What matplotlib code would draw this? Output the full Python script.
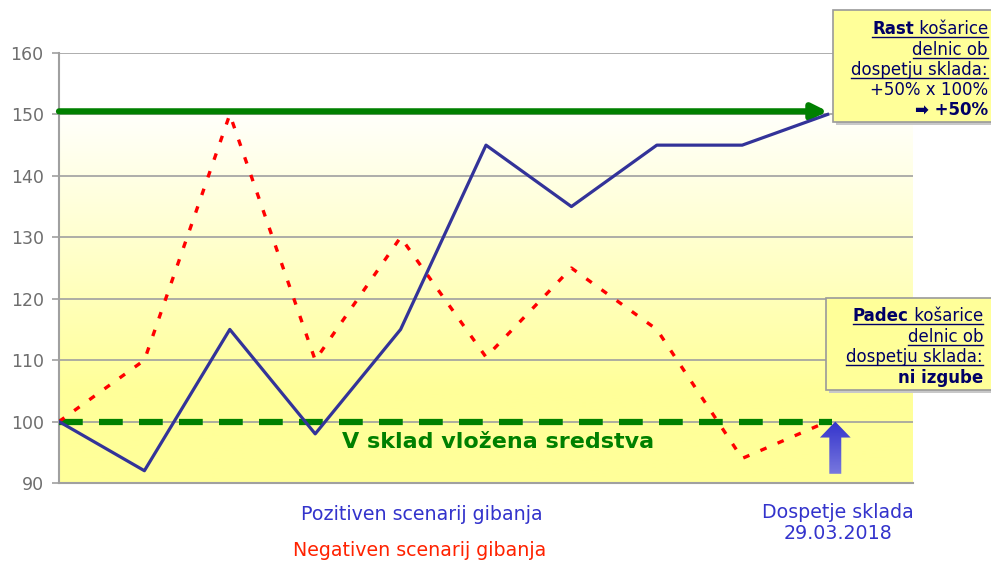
import numpy as np
import matplotlib.pyplot as plt
from matplotlib.patches import Rectangle, FancyArrow
from matplotlib.lines import Line2D

# data
periods = list(range(10))
positive = [100, 92, 115, 98, 115, 145, 135, 145, 145, 150]
negative = [100, 110, 150, 110, 130, 110.5, 125, 115, 94, 100]
y_ticks = [90, 100, 110, 120, 130, 140, 150, 160]
invested_level = 100
growth_level = 150.5

W, H = 991, 563
fig = plt.figure(figsize=(W / 100, H / 100), dpi=100)
fig.patch.set_facecolor('white')


def fx(px):
    return px / W


def fy(py):
    return 1 - py / H


ax = fig.add_axes([fx(59), fy(483), fx(913) - fx(59), fy(53) - fy(483)])
ax.set_xlim(0, 10)
ax.set_ylim(90, 160)

# background gradient: white near the top, yellow towards the bottom
yy = np.linspace(90, 160, 300)
t = np.clip((152 - yy) / (152 - 105), 0, 1)
white = np.array([1.0, 1.0, 1.0])
yellow = np.array([1.0, 1.0, 0.6])
grad = (white[None, :] * (1 - t[:, None]) + yellow[None, :] * t[:, None])
ax.imshow(grad[:, None, :], extent=[0, 10, 90, 160], origin='lower',
          aspect='auto', zorder=0)

for y in y_ticks[1:]:
    ax.axhline(y, color='#a0a0a0', lw=1.2, zorder=1)

ax.set_yticks(y_ticks)
ax.set_xticks([])
ax.tick_params(axis='y', colors='#a0a0a0', labelcolor='#6e6e6e',
               labelsize=12.5, length=5, width=1.2, pad=6)
for side in ['top', 'right']:
    ax.spines[side].set_visible(False)
for side in ['left', 'bottom']:
    ax.spines[side].set_color('#a0a0a0')
    ax.spines[side].set_linewidth(1.5)

# invested amount (dashed) and growth target (arrow)
ax.plot([0, 9.05], [invested_level, invested_level], color='#008000', lw=4.5,
        linestyle=(0, (3.8, 2.6)), solid_capstyle='butt',
        dash_capstyle='butt', zorder=3)
ax.annotate('', xy=(9.0, growth_level), xytext=(0, growth_level),
            arrowprops=dict(arrowstyle='-|>', lw=4.5, color='#008000',
                            mutation_scale=22, shrinkA=0, shrinkB=0),
            zorder=3)

ax.plot(periods, negative, color='#ff0000', lw=2.4,
        linestyle=(0, (2.0, 3.6)), dash_capstyle='butt', zorder=4)
ax.plot(periods, positive, color='#333399', lw=2.3, zorder=5)

ax.text(5.14, 96.6, 'V sklad vložena sredstva', color='#008000',
        fontsize=16, fontweight='bold', ha='center', va='center', zorder=6)

# blue arrow pointing to maturity with a gradient fill
arrow = FancyArrow(9.09, 91.5, 0, 8.5, width=0.14, head_width=0.36,
                   head_length=2.6, length_includes_head=True,
                   transform=ax.transData, lw=0, facecolor='none', zorder=6)
ax.add_patch(arrow)
ag = np.linspace(0, 1, 100)[:, None]
acol = np.stack([0.47 - 0.27 * ag, 0.47 - 0.27 * ag, 0.87 - 0.07 * ag],
                axis=-1)
im = ax.imshow(acol, extent=[8.85, 9.35, 91.5, 100], origin='lower',
               aspect='auto', zorder=6)
im.set_clip_path(arrow)

# labels under the chart
fig.text(fx(422), fy(515), 'Pozitiven scenarij gibanja', color='#3333cc',
         fontsize=13.7, ha='center', va='center')
fig.text(fx(420), fy(551), 'Negativen scenarij gibanja', color='#ff2200',
         fontsize=13.7, ha='center', va='center')
fig.text(fx(838), fy(523), 'Dospetje sklada\n29.03.2018', color='#3333cc',
         fontsize=13.7, ha='center', va='center', linespacing=1.15)


def note_box(x0, y0, x1, y1, lines, right):
    fig.patches.append(Rectangle((fx(x0 + 3), fy(y1 + 3)), fx(x1 - x0),
                                 fy(y0) - fy(y1), transform=fig.transFigure,
                                 facecolor='#c8c8c8', edgecolor='none',
                                 zorder=10))
    fig.patches.append(Rectangle((fx(x0), fy(y1)), fx(x1 - x0),
                                 fy(y0) - fy(y1), transform=fig.transFigure,
                                 facecolor='#ffff99', edgecolor='#9a9a9a',
                                 lw=1.2, zorder=11))
    made = []
    for parts, ypos, underline in lines:
        # parts drawn right to left so they line up at the right edge
        xr = right
        group = []
        for txt, weight in reversed(parts):
            t = fig.text(fx(xr), fy(ypos), txt, color='#000066', fontsize=12,
                         fontweight=weight, ha='right', va='baseline',
                         zorder=12)
            fig.canvas.draw()
            bb = t.get_window_extent()
            xr = bb.x0
            group.append(t)
        made.append((group, ypos, underline))
    for group, ypos, underline in made:
        if not underline:
            continue
        fig.canvas.draw()
        x_left = min(t.get_window_extent().x0 for t in group)
        x_right = max(t.get_window_extent().x1 for t in group)
        fig.add_artist(Line2D([fx(x_left), fx(x_right)],
                              [fy(ypos + 3), fy(ypos + 3)],
                              transform=fig.transFigure, color='#000066',
                              lw=1, zorder=12))


note_box(833, 10, 1000, 122, [
    ([('Rast', 'bold'), (' košarice', 'normal')], 34, True),
    ([('delnic ob', 'normal')], 55, True),
    ([('dospetju sklada:', 'normal')], 75, True),
    ([('+50% x 100%', 'normal')], 95, False),
    ([('➡ +50%', 'bold')], 115, False),
], 988)

note_box(826, 298, 1000, 390, [
    ([('Padec', 'bold'), (' košarice', 'normal')], 321, True),
    ([('delnic ob', 'normal')], 342, True),
    ([('dospetju sklada:', 'normal')], 362, True),
    ([('ni izgube', 'bold')], 383, False),
], 983)

fig.savefig('out.png', dpi=100)
